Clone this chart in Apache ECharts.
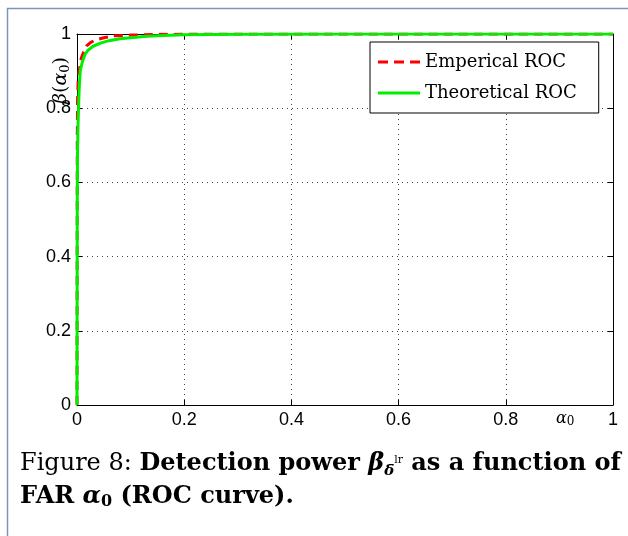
<!DOCTYPE html>
<html>
<head>
<meta charset="utf-8">
<script src="https://cdn.jsdelivr.net/npm/echarts@6/dist/echarts.min.js"></script>
<style>html,body{margin:0;padding:0;background:#fff;}#c{width:628px;height:536px;}</style>
</head>
<body>
<div id="c"></div>
<script>
// ---- data ----
const seriesNames = ['Emperical ROC', 'Theoretical ROC'];
const empAlpha = [0, 0.0005, 0.001, 0.002, 0.004, 0.008, 0.012, 0.018, 0.025, 0.035, 0.05, 0.07, 0.1, 0.15, 0.2, 0.4, 1];
const empBeta  = [0, 0.7, 0.82, 0.87, 0.9, 0.935, 0.95, 0.968, 0.977, 0.984, 0.99, 0.995, 0.997, 0.999, 1, 1, 1];
const theoAlpha = [0, 0.0005, 0.001, 0.002, 0.004, 0.006, 0.01, 0.015, 0.02, 0.03, 0.045, 0.06, 0.08, 0.1, 0.13, 0.16, 0.2, 0.3, 0.5, 1];
const theoBeta  = [0, 0.55, 0.68, 0.76, 0.85, 0.9, 0.925, 0.945, 0.955, 0.967, 0.976, 0.982, 0.987, 0.99, 0.994, 0.996, 0.998, 0.999, 1, 1];
const xTicks = [0, 0.2, 0.4, 0.6, 0.8, 1];
const yTicks = [0, 0.2, 0.4, 0.6, 0.8, 1];

const zip = (a, b) => a.map((v, i) => [v, b[i]]);
const chart = echarts.init(document.getElementById('c'), null, {renderer: 'canvas'});
const tickFont = {fontFamily: 'Liberation Sans', fontSize: 18, color: '#000'};
const gridLine = {show: true, lineStyle: {color: '#444', width: 1, type: [1, 4]}};
const dashIcon = 'path://M0,0h10v3h-10z M16,0h10v3h-10z M32,0h10v3h-10z';
const solidIcon = 'path://M0,0h42v3h-42z';

chart.setOption({
  animation: false,
  backgroundColor: '#fff',
  grid: {left: 77, right: 15, top: 34, bottom: 131, containLabel: false},
  xAxis: [{
    type: 'value', min: 0, max: 1, interval: 0.2, position: 'bottom',
    axisLine: {show: true, onZero: false, lineStyle: {color: '#000', width: 1}},
    axisTick: {show: true, inside: true, length: 5, lineStyle: {color: '#000'}},
    axisLabel: Object.assign({margin: 6}, tickFont),
    splitLine: gridLine
  }, {
    type: 'value', min: 0, max: 1, interval: 0.2, position: 'top',
    axisLine: {show: true, onZero: false, lineStyle: {color: '#000', width: 1}},
    axisTick: {show: true, inside: true, length: 5, lineStyle: {color: '#000'}},
    axisLabel: {show: false}, splitLine: {show: false}
  }],
  yAxis: [{
    type: 'value', min: 0, max: 1, interval: 0.2, position: 'left',
    axisLine: {show: true, onZero: false, lineStyle: {color: '#000', width: 1}},
    axisTick: {show: true, inside: true, length: 5, lineStyle: {color: '#000'}},
    axisLabel: Object.assign({margin: 6}, tickFont),
    splitLine: gridLine
  }, {
    type: 'value', min: 0, max: 1, interval: 0.2, position: 'right',
    axisLine: {show: true, onZero: false, lineStyle: {color: '#000', width: 1}},
    axisTick: {show: true, inside: true, length: 5, lineStyle: {color: '#000'}},
    axisLabel: {show: false}, splitLine: {show: false}
  }],
  legend: {
    orient: 'vertical', left: 370, top: 42,
    backgroundColor: '#fff', borderColor: '#000', borderWidth: 1, borderRadius: 0,
    padding: [9, 22, 9, 8], itemGap: 9, itemWidth: 42, itemHeight: 3,
    textStyle: {fontFamily: 'DejaVu Serif', fontSize: 18, color: '#000', lineHeight: 22},
    data: [{name: seriesNames[0], icon: dashIcon}, {name: seriesNames[1], icon: solidIcon}]
  },
  series: [{
    name: seriesNames[0], type: 'line', showSymbol: false, symbol: 'none', smooth: false,
    lineStyle: {color: '#ff0000', width: 3, type: [9, 6]}, itemStyle: {color: '#ff0000'},
    data: zip(empAlpha, empBeta), z: 2
  }, {
    name: seriesNames[1], type: 'line', showSymbol: false, symbol: 'none', smooth: false,
    lineStyle: {color: '#00ee00', width: 3, type: 'solid'}, itemStyle: {color: '#00ee00'},
    data: zip(theoAlpha, theoBeta), z: 3
  }],
  graphic: [
    {type: 'rect', shape: {x: 7.5, y: 8.5, width: 700, height: 600}, style: {fill: null, stroke: '#7d97b3', lineWidth: 1.5}, z: -10, silent: true},
    {type: 'text', x: 556, y: 410, style: {text: '{i|α}{s|0}', rich: {i: {fontFamily: 'DejaVu Serif', fontStyle: 'italic', fontSize: 16, fill: '#000'}, s: {fontFamily: 'DejaVu Serif', fontSize: 12, fill: '#000', padding: [6, 0, 0, 0]}}}, z: 50},
    {type: 'text', x: 51, y: 104, rotation: Math.PI / 2, style: {text: '{i|β}{n|(}{i|α}{s|0}{n|)}', rich: {i: {fontFamily: 'DejaVu Serif', fontStyle: 'italic', fontSize: 19, fill: '#000'}, n: {fontFamily: 'DejaVu Serif', fontSize: 19, fill: '#000'}, s: {fontFamily: 'DejaVu Serif', fontSize: 13, fill: '#000', padding: [8, 0, 0, 0]}}}, z: 50},
    {type: 'text', left: 20, top: 452, style: {
      text: '{r|Figure 8: }{b|Detection power }{bi|β}{sub|δ̄}{sup|lr}{b| as a function of}\n{b|FAR }{bi|α}{bsub|0}{b| (ROC curve).}',
      rich: {
        r: {fontFamily: 'DejaVu Serif', fontSize: 24, fill: '#000', lineHeight: 33},
        b: {fontFamily: 'DejaVu Serif', fontWeight: 'bold', fontSize: 24, fill: '#000', lineHeight: 33},
        bi: {fontFamily: 'DejaVu Serif', fontWeight: 'bold', fontStyle: 'italic', fontSize: 24, fill: '#000', lineHeight: 33},
        sub: {fontFamily: 'DejaVu Serif', fontWeight: 'bold', fontStyle: 'italic', fontSize: 15, fill: '#000', padding: [14, 0, 0, 0]},
        sup: {fontFamily: 'DejaVu Serif', fontSize: 11, fill: '#000', padding: [0, 0, 8, 0]},
        bsub: {fontFamily: 'DejaVu Serif', fontWeight: 'bold', fontSize: 16, fill: '#000', padding: [10, 0, 0, 0]}
      }
    }, z: 50}
  ]
});
</script>
</body>
</html>
